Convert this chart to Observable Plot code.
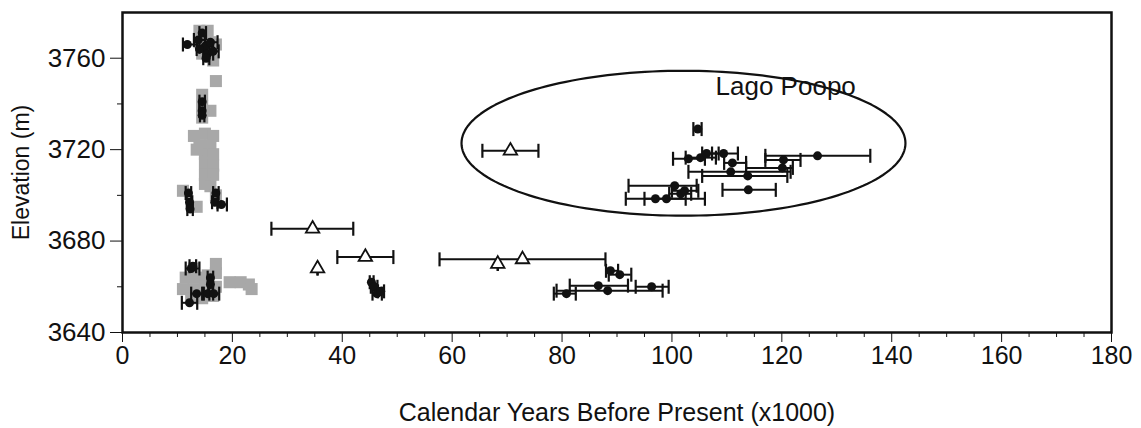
<!DOCTYPE html>
<html>
<head>
<meta charset="utf-8">
<script src="https://cdn.jsdelivr.net/npm/d3@7"></script>
<script src="https://cdn.jsdelivr.net/npm/@observablehq/plot@0.6"></script>
<style>
  html, body { margin: 0; padding: 0; background: #fff; }
  #chart svg { display: block; font-family: "Liberation Sans", Arial, Helvetica, sans-serif; }
</style>
</head>
<body>
<div id="chart"></div>
<script>
// Calibrated ages (ka) and shoreline elevations (m)

// Shaded squares: younger shoreline samples
const grayX = [14, 15.5, 14, 16, 17, 14.5, 16, 16.5, 15, 17, 14.5, 14.5, 16, 14.5,
  13, 15, 16.5, 14, 16, 15, 16.5, 15, 16.5, 15, 16.5, 15, 16, 13.5, 11, 13.5, 17,
  11.5, 13.5, 15.5, 17, 17, 11, 13, 15, 17, 12.5, 14.5, 16.5, 19.5, 21.5, 23, 23.5, 13];
const grayY = [3772, 3772, 3767, 3767, 3766, 3762, 3761, 3759, 3764, 3750, 3744, 3739, 3737, 3734,
  3726, 3727, 3726, 3722, 3722, 3718, 3718, 3714, 3713, 3709, 3709, 3705, 3704, 3720, 3702, 3695, 3700,
  3664, 3664, 3665, 3666, 3670, 3659, 3659, 3660, 3660, 3655, 3655, 3656, 3662, 3662, 3661, 3659, 3668];

// Filled circles: age, elevation, age range (low, high)
const circX = [11.8, 13.8, 14.5, 15, 15.5, 16, 14, 15.2, 16.5,
  14.5, 14.5, 14.5,
  12, 12.2, 12.3, 17, 16.8, 18,
  12.5, 12.8, 16, 16, 12.2, 13.5, 15.5, 16.6,
  45.3, 45.8, 46.3, 47,
  88.8, 90.5, 86.6, 88.3, 96.3, 80.8,
  104.7, 103, 105.2, 106.3, 109.4, 111, 120.3, 126.5, 120.1, 110.7, 113.8, 100.5, 101.6, 97, 99, 113.9, 102.3];
const circY = [3766, 3768, 3771, 3765, 3762, 3767, 3764, 3760, 3763,
  3741, 3737, 3735,
  3701, 3697, 3694, 3701, 3697, 3696,
  3668, 3669, 3664, 3661, 3653, 3657, 3657, 3657,
  3662, 3660, 3657, 3658,
  3667, 3665.3, 3660.5, 3658.3, 3660, 3657,
  3729, 3716, 3716.5, 3718.3, 3718.3, 3714.2, 3715.5, 3717.3, 3712, 3710.3, 3708.5, 3704.2, 3700.7, 3698.5, 3698.5, 3702.4, 3702];
const circLo = [11, 13, 14, 14, 14.8, 15, 13.5, 14.7, 15.8,
  14, 14, 14.1,
  11.5, 11.7, 11.8, 16.5, 16.3, 17.3,
  11.5, 12.2, 15.5, 15.6, 10.8, 12.5, 14.5, 15.8,
  45, 45.2, 45.5, 46.5,
  88, 88.5, 81.4, 79, 93.4, 78.5,
  103.9, 100.2, 102.5, 105.5, 107.3, 109.5, 117, 117, 113.5, 103, 105.5, 92.1, 99.5, 91.6, 95, 109.2, 100];
const circHi = [13.6, 15, 15.2, 16.5, 16.5, 17.3, 14.8, 15.8, 17.5,
  15, 15, 14.9,
  12.5, 12.7, 12.8, 17.5, 17.3, 19,
  14, 13.4, 16.5, 16.4, 13.6, 14.8, 16.5, 17.6,
  45.7, 46.4, 47.2, 47.6,
  90.2, 92.6, 92, 98.3, 99.4, 82.5,
  105.4, 106, 108, 108.5, 112, 113.5, 123.4, 136.1, 122, 121.6, 121, 104.5, 103.5, 106, 102.5, 118.9, 104.8];

// Open triangles: age, elevation, age range (low, high)
const triX = [34.6, 44.2, 35.5, 68.3, 72.8, 70.6];
const triY = [3685.4, 3673, 3668, 3670, 3672, 3719.5];
const triLo = [27.1, 39.1, 35.5, 68.3, 57.7, 65.5];
const triHi = [42, 49.3, 35.5, 68.3, 87.9, 75.7];

// Lago Poopo outline (center, semi-axes in data units)
const poopoCenter = [102.1, 3722.8];
const poopoRadii = [40.4, 31.7];
const poopoLabel = {text: "Lago Poopo", x: 120.7, y: 3747.4};

const xMajor = d3.range(0, 181, 20);
const xMinor = d3.range(0, 181, 5).filter(d => d % 20 !== 0);
const yMajor = [3640, 3680, 3720, 3760];
const yMinor = [3660, 3700, 3740];

const gray = grayX.map((x, i) => ({x, y: grayY[i]}));
const circles = circX.map((x, i) => ({x, y: circY[i], lo: circLo[i], hi: circHi[i]}));
const triangles = triX.map((x, i) => ({x, y: triY[i], lo: triLo[i], hi: triHi[i]}));
const bars = [...circles, ...triangles];
const caps = bars.flatMap(d => [{x: d.lo, y: d.y}, {x: d.hi, y: d.y}]);

const ellipse = d3.range(0, 361, 2).map(a => {
  const t = a * Math.PI / 180;
  return {x: poopoCenter[0] + poopoRadii[0] * Math.cos(t), y: poopoCenter[1] + poopoRadii[1] * Math.sin(t)};
});

// vertical end cap for the age-range bars
const capSymbol = {
  draw(ctx) { ctx.moveTo(0, -7); ctx.lineTo(0, 7); }
};

const font = "Liberation Sans, Arial, Helvetica, sans-serif";

const chart = Plot.plot({
  width: 1141,
  height: 428,
  marginLeft: 122,
  marginRight: 30,
  marginTop: 12,
  marginBottom: 96,
  x: {domain: [0, 180]},
  y: {domain: [3640, 3780]},
  marks: [
    Plot.dot(gray, {x: "x", y: "y", symbol: "square", r: 6.8, fill: "#a8a8a8"}),
    Plot.ruleY(bars, {y: "y", x1: "lo", x2: "hi", stroke: "#111", strokeWidth: 2}),
    Plot.dot(caps, {x: "x", y: "y", symbol: capSymbol, fill: "none", stroke: "#111", strokeWidth: 2.2}),
    Plot.dot(circles, {x: "x", y: "y", r: 4.5, fill: "#111", stroke: "none"}),
    Plot.dot(triangles, {x: "x", y: "y", symbol: "triangle", r: 5, fill: "white", stroke: "#111", strokeWidth: 1.8}),
    Plot.line(ellipse, {x: "x", y: "y", curve: "linear-closed", stroke: "#111", strokeWidth: 2.2}),
    Plot.text([poopoLabel], {x: "x", y: "y", text: "text", fontSize: 26, fill: "#111", fontFamily: font}),
    Plot.axisX({ticks: xMajor, tickSize: 10, tickPadding: 4, fontSize: 25, label: "Calendar Years Before Present (x1000)", labelAnchor: "center", labelOffset: 88, labelArrow: "none", fontFamily: font, color: "#111"}),
    Plot.axisX({ticks: xMinor, tickSize: 5, text: null, label: null, color: "#111"}),
    Plot.axisY({ticks: yMajor, tickSize: 12, tickPadding: 5, tickFormat: d => String(d), fontSize: 26, label: "Elevation (m)", labelAnchor: "center", labelOffset: 110, labelArrow: "none", fontFamily: font, color: "#111"}),
    Plot.axisY({ticks: yMinor, tickSize: 5, text: null, label: null, color: "#111"}),
    Plot.frame({stroke: "#111", strokeWidth: 2.5})
  ]
});

// the axis title on the y axis is set a little smaller than the tick labels
d3.select(chart).selectAll("g[aria-label='y-axis label'] text").attr("font-size", 23);

document.getElementById("chart").appendChild(chart);
</script>
</body>
</html>
